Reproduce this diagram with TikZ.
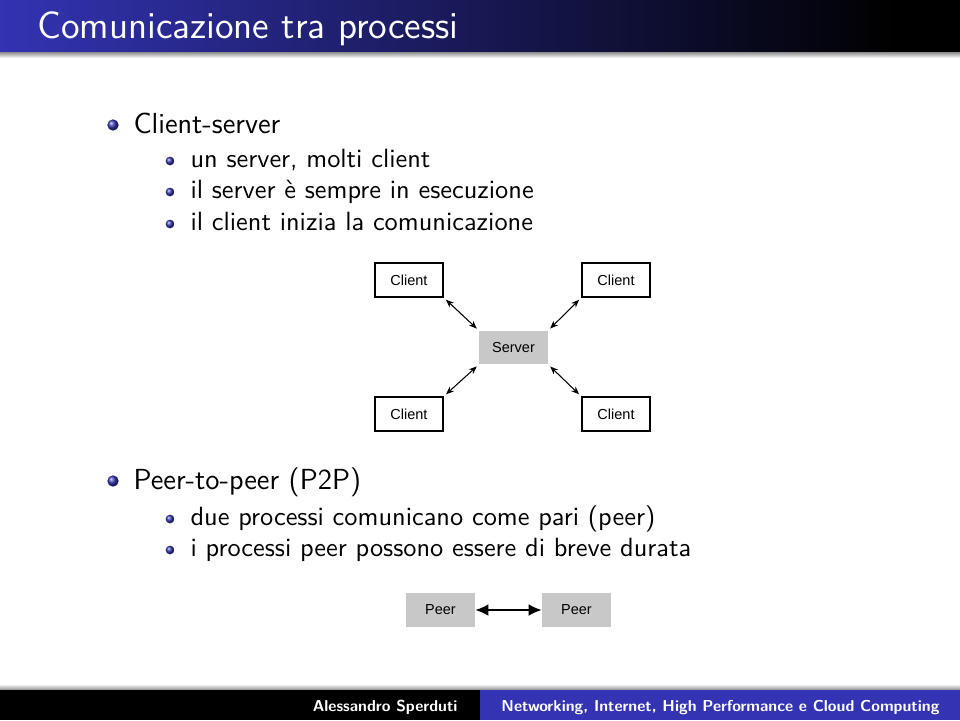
\documentclass[tikz,border=0pt]{standalone}
\usepackage{fontspec}
\newfontfamily\figfont{Liberation Sans}
\usetikzlibrary{arrows.meta,positioning}
\definecolor{structblue}{RGB}{51,51,179}
\definecolor{boxgray}{RGB}{200,200,200}

\tikzset{
  itemball/.style={circle,inner sep=0pt,minimum size=4.3pt,shading=ball,ball color=structblue},
  subball/.style={circle,inner sep=0pt,minimum size=3.3pt,shading=ball,ball color=structblue},
  itemtext/.style={anchor=base west,inner sep=0pt,font=\sffamily\fontsize{11}{13}\selectfont},
  subtext/.style={anchor=base west,inner sep=0pt,font=\sffamily\fontsize{10}{12}\selectfont},
  foottext/.style={anchor=base east,inner sep=0pt,text=white,font=\sffamily\bfseries\fontsize{6}{7}\selectfont},
  clientbox/.style={draw,line width=0.6pt,fill=white,minimum width=26pt,minimum height=13pt,inner sep=0pt,font=\figfont\fontsize{5.5}{6}\selectfont},
  graybox/.style={fill=boxgray,minimum width=26pt,minimum height=12.6pt,inner sep=0pt,font=\figfont\fontsize{5.5}{6}\selectfont},
  link/.style={{Stealth[length=3pt,width=2.4pt]}-{Stealth[length=3pt,width=2.4pt]},line width=0.4pt,shorten <=1pt,shorten >=1pt},
  peerlink/.style={{Latex[length=5pt,width=4.5pt]}-{Latex[length=5pt,width=4.5pt]},line width=0.7pt}
}

\begin{document}
\begin{tikzpicture}[x=0.013333cm,y=-0.013333cm]
  \useasboundingbox (0,0) rectangle (960,720);
  \fill[white] (0,0) rectangle (960,720);

  \shade[left color=structblue,right color=black] (0,0) rectangle (900,52);
  \fill[black] (900,0) rectangle (960,52);
  \shade[top color=black!45,bottom color=white] (0,52) rectangle (960,58);
  \node[anchor=base west,inner sep=0pt,text=white,font=\sffamily\fontsize{14.4}{17}\selectfont] (title) at (37,38) {Comunicazione tra processi};

  \node[itemball] (b1) at (113,125) {};
  \node[itemtext] (cs) at (133,133) {Client-server};
  \node[subball] (b11) at (170,161) {};
  \node[subtext] (cs1) at (190,167) {un server, molti client};
  \node[subball] (b12) at (170,192) {};
  \node[subtext] (cs2) at (190,198) {il server è sempre in esecuzione};
  \node[subball] (b13) at (170,224) {};
  \node[subtext] (cs3) at (190,230) {il client inizia la comunicazione};

  \node[graybox] (srv) at (513.5,347.5) {Server};
  \node[clientbox] (c1) at (409,280) {Client};
  \node[clientbox] (c2) at (616,280) {Client};
  \node[clientbox] (c3) at (409,414) {Client};
  \node[clientbox] (c4) at (616,414) {Client};
  \draw[link] (c1.south east) -- (srv.north west);
  \draw[link] (c2.south west) -- (srv.north east);
  \draw[link] (c3.north east) -- (srv.south west);
  \draw[link] (c4.north west) -- (srv.south east);

  \node[itemball] (b2) at (113,481) {};
  \node[itemtext] (p2p) at (133,489) {Peer-to-peer (P2P)};
  \node[subball] (b21) at (170,519) {};
  \node[subtext] (p1) at (190,525) {due processi comunicano come pari (peer)};
  \node[subball] (b22) at (170,550) {};
  \node[subtext] (p2) at (190,556) {i processi peer possono essere di breve durata};

  \node[graybox,minimum height=13pt] (peerA) at (440.5,610) {Peer};
  \node[graybox,minimum height=13pt] (peerB) at (576.5,610) {Peer};
  \draw[peerlink] (peerA) -- (peerB);

  \shade[top color=white,bottom color=black!45] (0,684) rectangle (960,690);
  \fill[black] (0,690) rectangle (480,720);
  \fill[structblue] (480,690) rectangle (960,720);
  \node[foottext] (author) at (458,711) {Alessandro Sperduti};
  \node[foottext] (course) at (940,711) {Networking, Internet, High Performance e Cloud Computing};
\end{tikzpicture}
\end{document}
